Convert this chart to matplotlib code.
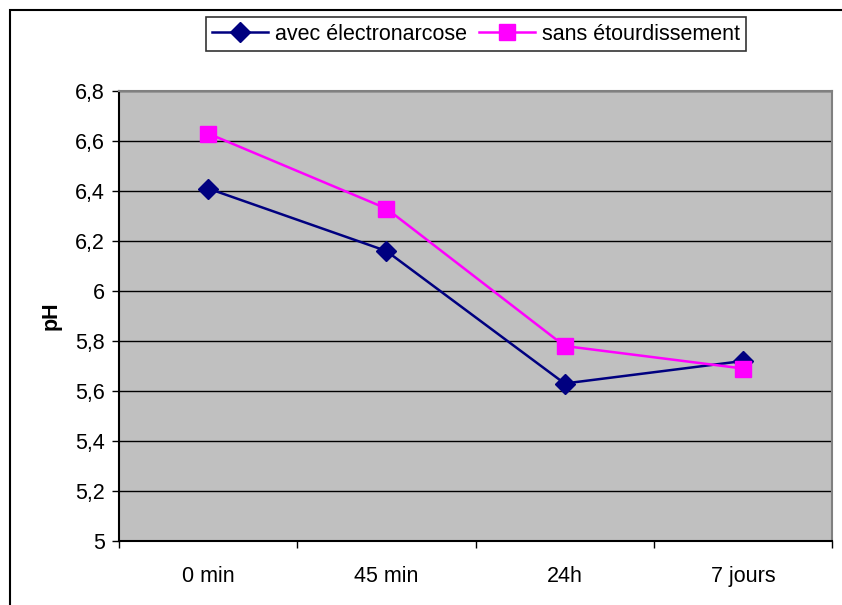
import matplotlib
matplotlib.use("Agg")
import matplotlib.pyplot as plt
from matplotlib.patches import Rectangle

# données (pH)
categories = ["0 min", "45 min", "24h", "7 jours"]
avec_electro = [6.41, 6.16, 5.63, 5.72]
sans_etourd = [6.63, 6.33, 5.78, 5.69]
yticks = [5.0, 5.2, 5.4, 5.6, 5.8, 6.0, 6.2, 6.4, 6.6, 6.8]
ytick_labels = ["5", "5,2", "5,4", "5,6", "5,8", "6", "6,2", "6,4", "6,6", "6,8"]

plt.rcParams["font.family"] = ["Liberation Sans", "DejaVu Sans"]

W, H = 842, 605
fig = plt.figure(figsize=(W / 100, H / 100), dpi=100)

# cadre extérieur
fig.patches.append(Rectangle((10 / W, -0.1), 1.2, 1 - 10 / H + 0.1,
                             transform=fig.transFigure, fill=False,
                             edgecolor="black", linewidth=1.5))

ax = fig.add_axes([119 / W, 64 / H, (832 - 119) / W, (541 - 91) / H])
ax.set_facecolor("#c0c0c0")

x = range(len(categories))
ax.plot(x, avec_electro, color="#000080", marker="D", markersize=10,
        linewidth=1.8, label="avec électronarcose", zorder=3)
ax.plot(x, sans_etourd, color="#ff00ff", marker="s", markersize=11,
        linewidth=1.8, label="sans étourdissement", zorder=3)

ax.set_xlim(-0.5, len(categories) - 0.5)
ax.set_ylim(5.0, 6.8)
ax.set_yticks(yticks)
ax.set_yticklabels(ytick_labels, fontsize=15.5)
ax.set_xticks(list(x))
ax.set_xticklabels(categories, fontsize=15.5)
ax.set_xticks([i - 0.5 for i in range(len(categories) + 1)], minor=True)
ax.tick_params(axis="x", which="major", length=0, pad=18)
ax.tick_params(axis="x", which="minor", length=5, direction="out", width=1)
ax.tick_params(axis="y", length=5, direction="out", width=1, pad=5)
ax.grid(axis="y", color="black", linewidth=1)
ax.set_axisbelow(True)

ax.spines["left"].set_color("black")
ax.spines["bottom"].set_color("black")
ax.spines["top"].set_color("#808080")
ax.spines["right"].set_color("#808080")
for s in ax.spines.values():
    s.set_linewidth(1.5)

ax.set_ylabel("pH", fontsize=15.5, fontweight="bold", labelpad=10)

leg = fig.legend(loc="center", bbox_to_anchor=(476 / W, 1 - 34 / H), ncol=2,
                 fontsize=15.5, frameon=True, fancybox=False, edgecolor="black",
                 handlelength=2.6, handletextpad=0.3, columnspacing=0.6,
                 borderpad=0.3)
leg.get_frame().set_linewidth(1.2)

fig.savefig("out.png", dpi=100)
